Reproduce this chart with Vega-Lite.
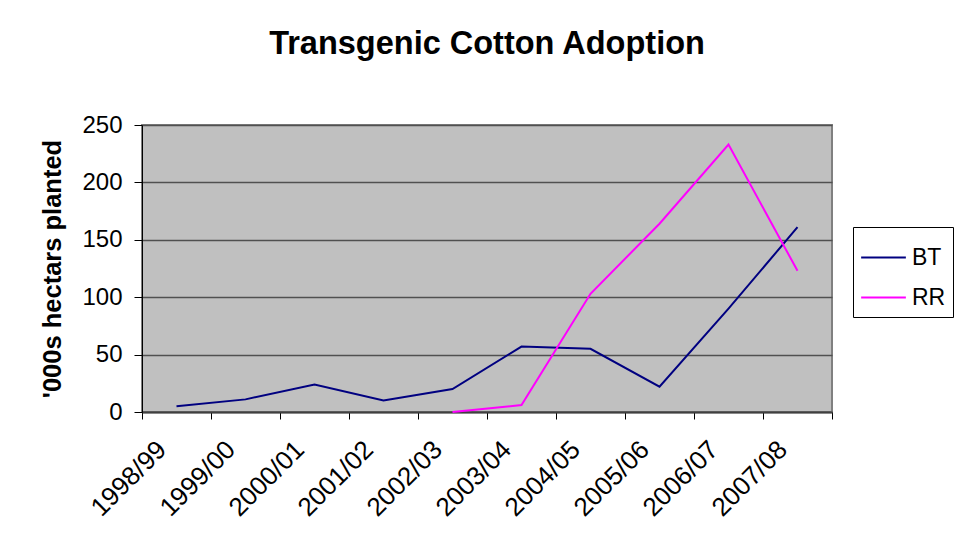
{
  "$schema": "https://vega.github.io/schema/vega-lite/v6.json",
  "width": 690,
  "height": 287,
  "autosize": {"type": "none"},
  "padding": {"left": 142, "top": 125, "right": 131, "bottom": 138},
  "background": "white",
  "title": {"text": "Transgenic Cotton Adoption", "fontSize": 32.5, "font": "Liberation Sans", "fontWeight": "bold", "color": "black", "offset": 53, "anchor": "middle", "frame": "group"},
  "config": {"view": {"fill": "#C0C0C0", "stroke": "#808080", "strokeWidth": 2}},
  "data": {"values": [
    {"season": "1998/99", "series": "BT", "value": 5},
    {"season": "1999/00", "series": "BT", "value": 11},
    {"season": "2000/01", "series": "BT", "value": 24},
    {"season": "2001/02", "series": "BT", "value": 10},
    {"season": "2002/03", "series": "BT", "value": 20},
    {"season": "2003/04", "series": "BT", "value": 57},
    {"season": "2004/05", "series": "BT", "value": 55},
    {"season": "2005/06", "series": "BT", "value": 22},
    {"season": "2006/07", "series": "BT", "value": 90},
    {"season": "2007/08", "series": "BT", "value": 161},
    {"season": "2002/03", "series": "RR", "value": 0},
    {"season": "2003/04", "series": "RR", "value": 6},
    {"season": "2004/05", "series": "RR", "value": 103},
    {"season": "2005/06", "series": "RR", "value": 164},
    {"season": "2006/07", "series": "RR", "value": 233},
    {"season": "2007/08", "series": "RR", "value": 123}
  ]},
  "mark": {"type": "line", "strokeWidth": 2},
  "encoding": {
    "x": {
      "field": "season", "type": "ordinal",
      "scale": {"type": "band", "paddingInner": 0, "paddingOuter": 0},
      "axis": {"title": null, "labelAngle": -45, "labelAlign": "right", "labelBaseline": "top", "labelFontSize": 26, "labelFont": "Liberation Sans", "labelColor": "black", "tickBand": "extent", "ticks": true, "tickSize": 7, "tickColor": "black", "tickWidth": 1, "domainColor": "#404040", "domainWidth": 2, "labelPadding": 17, "labelOffset": -24, "grid": false}
    },
    "y": {
      "field": "value", "type": "quantitative",
      "scale": {"domain": [0, 250], "nice": false},
      "axis": {"title": "'000s hectars planted", "titleFontSize": 25.5, "titleFont": "Liberation Sans", "titleFontWeight": "bold", "titleColor": "black", "titlePadding": 16, "values": [0, 50, 100, 150, 200, 250], "labelFontSize": 24, "labelFont": "Liberation Sans", "labelColor": "black", "labelPadding": 12, "tickSize": 8, "tickColor": "black", "domainColor": "black", "domainWidth": 1, "grid": true, "gridColor": "#505050", "gridWidth": 1.5}
    },
    "color": {
      "field": "series", "type": "nominal",
      "scale": {"domain": ["BT", "RR"], "range": ["#000080", "#FF00FF"]},
      "legend": {"title": null, "orient": "none", "legendX": 711, "legendY": 102, "strokeColor": "black", "fillColor": "white", "padding": 7, "symbolType": "stroke", "symbolSize": 2000, "symbolStrokeWidth": 2, "labelFontSize": 23, "labelFont": "Liberation Sans", "labelColor": "black", "labelOffset": 5, "rowPadding": 4, "cornerRadius": 0}
    }
  }
}
